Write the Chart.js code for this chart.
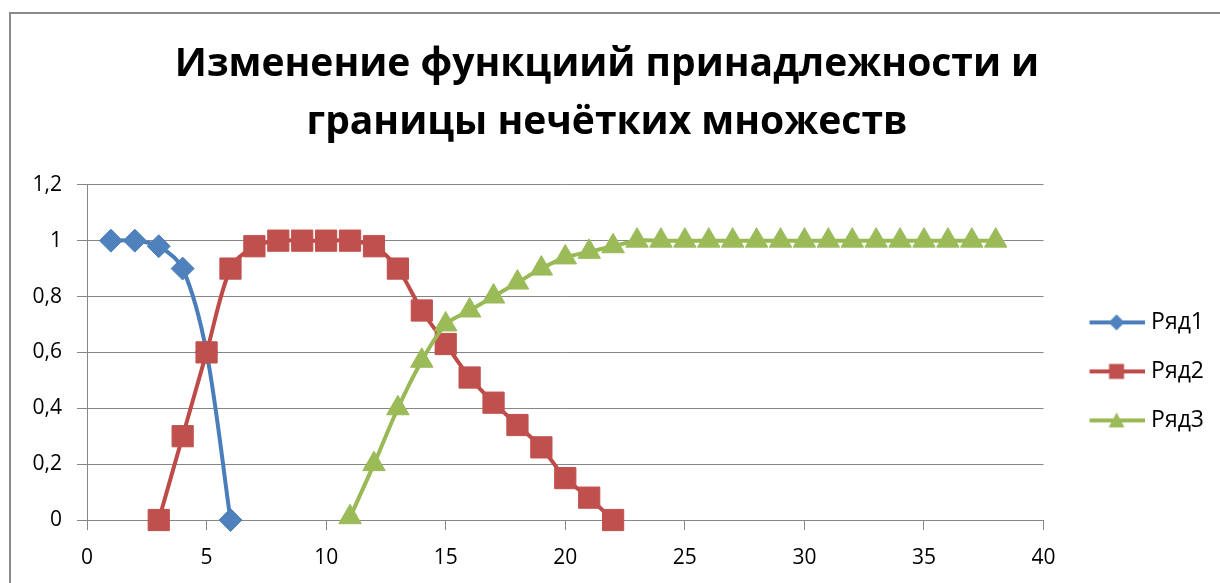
<!DOCTYPE html>
<html lang="ru">
<head>
<meta charset="utf-8">
<title>Изменение функциий принадлежности</title>
<script src="https://cdn.jsdelivr.net/npm/chart.js@4.4.1/dist/chart.umd.min.js"></script>
<style>
  html, body { margin: 0; padding: 0; background: #fff; }
  #wrap { position: relative; width: 1220px; height: 583px; overflow: hidden; }
  #frame { position: absolute; left: 9px; top: 12px; width: 1300px; height: 700px;
           border-top: 2px solid #8a8a8a; border-left: 2px solid #8a8a8a; }
  #mycanvas { position: absolute; left: 0; top: 0; }
</style>
</head>
<body>
<div id="wrap">
  <div id="frame"></div>
  <canvas id="mycanvas" width="1220" height="583"></canvas>
</div>
<script>
// Ряд1
var x1 = [1, 2, 3, 4, 5, 6];
var ryad1 = [1, 1, 0.98, 0.9, 0.6, 0];
// Ряд2
var x2 = [3, 4, 5, 6, 7, 8, 9, 10, 11, 12, 13, 14, 15, 16, 17, 18, 19, 20, 21, 22];
var ryad2 = [0, 0.3, 0.6, 0.9, 0.98, 1, 1, 1, 1, 0.98, 0.9, 0.75, 0.63, 0.51, 0.42, 0.34, 0.26, 0.15, 0.08, 0];
// Ряд3
var x3 = [11, 12, 13, 14, 15, 16, 17, 18, 19, 20, 21, 22, 23, 24, 25, 26, 27, 28, 29, 30,
          31, 32, 33, 34, 35, 36, 37, 38];
var ryad3 = [0.01, 0.2, 0.4, 0.57, 0.7, 0.75, 0.8, 0.85, 0.9, 0.94, 0.96, 0.98, 1, 1, 1, 1, 1, 1, 1, 1,
             1, 1, 1, 1, 1, 1, 1, 1];

var seriesNames = ['Ряд1', 'Ряд2', 'Ряд3'];
var titleLines = ['Изменение функциий принадлежности и', 'границы нечётких множеств'];

var FONT = "'Open Sans', 'Noto Sans', sans-serif";
var GRID = '#868686';

function points(xs, ys) {
  var out = [];
  for (var i in xs) {
    out.push({ x: xs[i], y: ys[i] });
  }
  return out;
}

// small line + marker icon for the legend
function legendIcon(lineColor, fillColor, shape) {
  var c = document.createElement('canvas');
  c.width = 80;
  c.height = 26;
  var g = c.getContext('2d');
  g.strokeStyle = lineColor;
  g.lineWidth = 4;
  g.beginPath();
  g.moveTo(25, 13);
  g.lineTo(80, 13);
  g.stroke();
  g.fillStyle = fillColor;
  g.beginPath();
  if (shape == 'diamond') {
    g.moveTo(52, 5); g.lineTo(60, 13); g.lineTo(52, 21); g.lineTo(44, 13);
  } else if (shape == 'square') {
    g.rect(44.5, 5.5, 15, 15);
  } else {
    g.moveTo(52, 5); g.lineTo(60, 20); g.lineTo(44, 20);
  }
  g.closePath();
  g.fill();
  return c;
}

var legendIcons = [
  legendIcon('#4A7EBB', '#4F81BD', 'diamond'),
  legendIcon('#BE4B48', '#C0504D', 'square'),
  legendIcon('#98B954', '#9BBB59', 'triangle')
];

var chartdata = {
  datasets: [
    {
      label: seriesNames[0],
      data: points(x1, ryad1),
      borderColor: '#4A7EBB',
      backgroundColor: '#4F81BD',
      pointBackgroundColor: '#4F81BD',
      pointBorderColor: '#4F81BD',
      pointStyle: 'rectRot',
      pointRadius: 11.5,
      order: 3
    },
    {
      label: seriesNames[1],
      data: points(x2, ryad2),
      borderColor: '#BE4B48',
      backgroundColor: '#C0504D',
      pointBackgroundColor: '#C0504D',
      pointBorderColor: '#C0504D',
      pointStyle: 'rect',
      pointRadius: 15,
      order: 2
    },
    {
      label: seriesNames[2],
      data: points(x3, ryad3),
      borderColor: '#98B954',
      backgroundColor: '#9BBB59',
      pointBackgroundColor: '#9BBB59',
      pointBorderColor: '#9BBB59',
      pointStyle: 'triangle',
      pointRadius: 13,
      order: 1
    }
  ]
};

var ctx = document.getElementById('mycanvas');

var myLineChart = new Chart(ctx, {
  type: 'line',
  data: chartdata,
  options: {
    responsive: false,
    animation: false,
    datasets: {
      line: {
        borderWidth: 4,
        tension: 0.3,
        pointBorderWidth: 1,
        pointHoverRadius: 13,
        clip: false,
        fill: false
      }
    },
    layout: { padding: { left: 0, right: 6 } },
    plugins: {
      title: {
        display: true,
        text: titleLines,
        color: '#000',
        font: { family: FONT, size: 39, weight: 'bold', lineHeight: 1.51 },
        padding: { top: 35, bottom: 32 }
      },
      legend: {
        position: 'right',
        fullSize: false,
        title: { display: true, text: '', padding: { top: 28, bottom: 0 }, font: { size: 10, lineHeight: 1 } },
        labels: {
          usePointStyle: true,
          pointStyleWidth: 70,
          padding: 26,
          color: '#000',
          font: { family: FONT, size: 23 },
          generateLabels: function(chart) {
            var items = Chart.defaults.plugins.legend.labels.generateLabels(chart);
            items.forEach(function(it) { it.pointStyle = legendIcons[it.datasetIndex]; });
            return items;
          },
          sort: function(a, b) { return a.datasetIndex - b.datasetIndex; }
        }
      },
      tooltip: { enabled: false }
    },
    scales: {
      x: {
        type: 'linear',
        min: 0,
        max: 40,
        ticks: { stepSize: 5, padding: 15, color: '#000', font: { family: FONT, size: 21 } },
        grid: { drawOnChartArea: false, tickLength: 10, color: GRID },
        border: { color: GRID },
        afterFit: function(scale) { scale.height = 63; }
      },
      y: {
        min: 0,
        max: 1.2,
        ticks: {
          stepSize: 0.2,
          padding: 15,
          color: '#000',
          font: { family: FONT, size: 21 },
          callback: function(v) { return (Math.round(v * 10) / 10).toString().replace('.', ','); }
        },
        grid: { tickLength: 10, color: GRID },
        border: { color: GRID },
        afterFit: function(scale) { scale.width = 87; }
      }
    }
  }
});
</script>
</body>
</html>
